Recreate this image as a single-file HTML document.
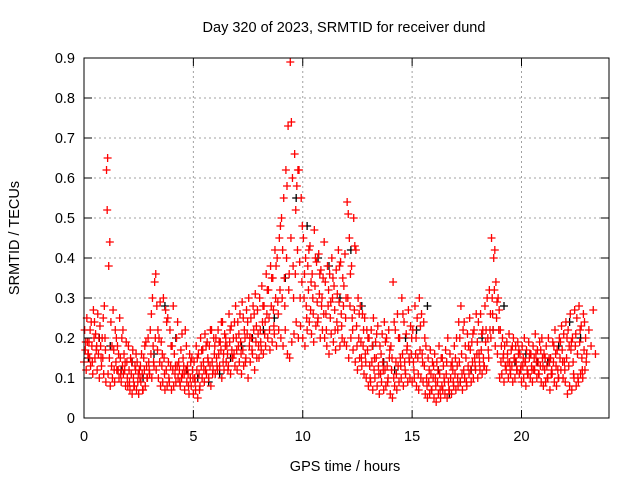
<!DOCTYPE html>
<html><head><meta charset="utf-8"><style>
body{margin:0;background:#fff}
svg{display:block;font-family:"Liberation Sans",sans-serif}
</style></head><body>
<svg id="chart" width="640" height="480" xmlns="http://www.w3.org/2000/svg">
<rect width="640" height="480" fill="#fff"/>
<text x="344" y="32" font-size="14.5" text-anchor="middle">Day 320 of 2023, SRMTID for receiver dund</text>
<text transform="translate(19,238) rotate(-90)" font-size="14.5" text-anchor="middle">SRMTID / TECUs</text>
<text x="345" y="471" font-size="14.5" text-anchor="middle">GPS time / hours</text>
<g id="grid"></g><g id="marks"></g><g id="axes"></g>
</svg>
<script>
const xTicks=[0,5,10,15,20];
const yTicks=[0,0.1,0.2,0.3,0.4,0.5,0.6,0.7,0.8,0.9];
const redA=[.14,.12,.16,.13,.11,.15,.12,.10,.13,.11,.09,.11,.08,.10,.09,.12,.10,.09,.11,.08,.08,.07,.06,.08,.07,.06,.09,.07,.08,.10,.11,.10,.13,.12,.10,.08,.09,.07,.08,.09,.07,.08,.09,.10,.08,.11,.07,.09,.06,.08,.06,.07,.05,.08,.10,.09,.11,.10,.08,.12,.11,.12,.13,.10,.12,.14,.13,.11,.15,.13,.12,.14,.11,.13,.15,.10,.14,.16,.12,.15,.15,.17,.16,.18,.20,.17,.19,.21,.18,.22,.20,.18,.22,.16,.15,.19,.21,.24,.20,.23,.20,.18,.22,.24,.21,.19,.23,.25,.20,.22,.20,.18,.16,.21,.19,.17,.22,.18,.20,.19,.18,.15,.20,.17,.14,.12,.15,.13,.11,.10,.08,.09,.07,.10,.08,.06,.09,.07,.08,.10,.06,.05,.08,.07,.09,.10,.08,.11,.09,.10,.09,.10,.08,.07,.10,.09,.06,.05,.06,.07,.05,.04,.06,.05,.07,.06,.05,.07,.06,.08,.07,.08,.09,.07,.10,.08,.11,.09,.10,.12,.10,.12,.11,.13,.12,.15,.20,.22,.18,.16,.10,.11,.09,.12,.10,.11,.09,.10,.12,.11,.09,.10,.08,.11,.10,.09,.12,.10,.11,.09,.08,.09,.10,.07,.11,.09,.08,.10,.12,.10,.09,.06,.08,.07,.10,.08,.09,.11,.10,.12];
const redB=[.22,.25,.19,.24,.27,.21,.26,.23,.20,.28,.62,.38,.24,.27,.22,.18,.25,.20,.16,.19,.18,.15,.17,.13,.14,.12,.16,.15,.19,.20,.22,.30,.34,.28,.20,.19,.30,.27,.25,.22,.18,.16,.20,.14,.17,.15,.22,.13,.16,.15,.14,.18,.16,.20,.17,.21,.19,.18,.22,.20,.20,.22,.19,.24,.21,.18,.26,.23,.20,.28,.24,.26,.29,.22,.27,.30,.25,.28,.31,.27,.30,.33,.28,.36,.32,.38,.35,.42,.40,.45,.50,.55,.62,.73,.89,.60,.66,.58,.62,.55,.45,.40,.38,.43,.36,.47,.39,.41,.37,.35,.34,.38,.36,.40,.33,.37,.42,.39,.35,.41,.54,.45,.38,.50,.42,.30,.28,.26,.25,.22,.20,.22,.25,.19,.23,.18,.21,.24,.20,.22,.18,.34,.22,.26,.20,.30,.24,.21,.27,.23,.22,.28,.25,.30,.26,.24,.18,.15,.17,.14,.16,.14,.18,.15,.13,.17,.20,.16,.14,.18,.20,.24,.28,.22,.18,.21,.25,.19,.22,.26,.24,.26,.22,.28,.30,.32,.45,.40,.34,.30,.22,.20,.18,.19,.21,.17,.20,.18,.19,.16,.18,.20,.17,.19,.16,.18,.21,.17,.19,.20,.16,.18,.20,.15,.19,.22,.17,.20,.23,.21,.24,.22,.26,.20,.27,.25,.28,.23,.26,.20];
const redC=[.17,.19,.15,.18,.20,.17,.16,.18,.15,.20,.52,.15,.13,.17,.14,.12,.15,.13,.12,.14,.12,.11,.10,.12,.09,.10,.11,.12,.13,.14,.16,.18,.20,.17,.14,.13,.15,.12,.14,.13,.12,.11,.13,.12,.10,.13,.12,.11,.10,.12,.10,.12,.11,.13,.14,.12,.15,.13,.14,.16,.15,.16,.17,.14,.18,.16,.19,.17,.16,.20,.18,.19,.17,.20,.21,.18,.20,.22,.19,.21,.22,.24,.21,.26,.25,.28,.27,.30,.29,.32,.30,.35,.40,.32,.45,.38,.36,.42,.39,.34,.30,.28,.32,.27,.30,.33,.29,.31,.28,.26,.26,.28,.25,.30,.27,.24,.29,.26,.28,.25,.30,.28,.25,.27,.23,.20,.19,.18,.16,.17,.13,.14,.12,.15,.13,.11,.14,.12,.13,.15,.12,.10,.14,.13,.15,.16,.14,.17,.15,.16,.14,.16,.15,.17,.16,.13,.10,.09,.11,.10,.10,.09,.11,.08,.10,.11,.09,.10,.12,.11,.13,.14,.16,.12,.15,.13,.17,.14,.15,.16,.16,.17,.15,.19,.20,.22,.30,.32,.25,.22,.14,.15,.13,.16,.14,.13,.15,.14,.16,.12,.13,.14,.12,.15,.13,.12,.16,.14,.13,.15,.12,.13,.15,.11,.14,.16,.12,.15,.17,.14,.15,.13,.17,.14,.18,.16,.19,.15,.17,.14];
const redD=[.19,.16,.22,.14,.24,.18,.20,.15,.25,.17,.65,.44,.18,.12,.20,.16,.11,.22,.14,.10,.09,.14,.08,.16,.11,.13,.07,.18,.10,.12,.26,.14,.36,.22,.29,.16,.11,.24,.10,.18,.28,.13,.24,.09,.21,.11,.18,.08,.14,.10,.09,.15,.07,.17,.12,.18,.14,.22,.11,.18,.13,.19,.24,.16,.20,.12,.22,.15,.24,.17,.21,.16,.25,.14,.24,.20,.17,.26,.23,.18,.19,.28,.24,.32,.22,.35,.23,.38,.26,.48,.42,.28,.58,.36,.74,.30,.52,.62,.30,.48,.36,.25,.42,.34,.26,.40,.24,.36,.30,.44,.22,.32,.29,.35,.22,.31,.38,.23,.33,.30,.51,.36,.22,.43,.18,.26,.15,.22,.14,.20,.10,.18,.15,.21,.11,.16,.12,.19,.09,.17,.15,.24,.11,.20,.13,.26,.12,.18,.14,.20,.12,.20,.11,.23,.14,.20,.08,.12,.07,.13,.08,.12,.07,.15,.09,.14,.07,.13,.09,.15,.10,.20,.11,.24,.09,.18,.12,.21,.13,.19,.14,.21,.13,.22,.17,.26,.26,.42,.29,.27,.18,.16,.13,.14,.12,.18,.15,.12,.17,.13,.15,.14,.11,.16,.12,.15,.14,.11,.17,.13,.15,.10,.14,.12,.18,.13,.10,.19,.14,.12,.20,.18,.19,.11,.21,.10,.22,.12,.24,.16,.22,.18,.27,.16];
const blackV=[.15,.20,.18,.12,.14,.10,.16,.28,.20,.12,.10,.09,.11,.15,.18,.20,.22,.25,.35,.55,.48,.40,.38,.30,.42,.28,.18,.14,.12,.20,.22,.28,.12,.06,.09,.12,.20,.22,.28,.14,.16,.14,.14,.18,.24,.20];
const ns="http://www.w3.org/2000/svg";
const X0=84,X1=609,Y0=418,Y1=58;
const sx=t=>X0+t*(X1-X0)/24;
const sy=v=>Y0-v*(Y0-Y1)/0.9;
const grid=document.getElementById('grid'),marks=document.getElementById('marks'),axes=document.getElementById('axes');
function mk(tag,attrs,parent){const e=document.createElementNS(ns,tag);for(const k in attrs)e.setAttribute(k,attrs[k]);parent.appendChild(e);return e;}
yTicks.forEach(v=>{const y=sy(v);
 if(v>0&&v<0.9){const g=mk('line',{x1:X0,x2:X1,y1:y,y2:y,stroke:'#a0a0a0','stroke-dasharray':'2,3','stroke-width':1},grid);
 
 }
 mk('line',{x1:X0,x2:X0+8,y1:y,y2:y,stroke:'#000'},axes);
 mk('line',{x1:X1,x2:X1-8,y1:y,y2:y,stroke:'#000'},axes);
 const t=mk('text',{x:X0-9,y:y+5,'font-size':14.5,'text-anchor':'end'},axes);t.textContent=String(v);
 
 
});
xTicks.forEach(v=>{const x=sx(v);
 if(v>0){const g=mk('line',{x1:x,x2:x,y1:Y0,y2:Y1,stroke:'#a0a0a0','stroke-dasharray':'2,3','stroke-width':1},grid);
 
 }
 mk('line',{x1:x,x2:x,y1:Y0,y2:Y0-8,stroke:'#000'},axes);
 mk('line',{x1:x,x2:x,y1:Y1,y2:Y1+8,stroke:'#000'},axes);
 const t=mk('text',{x:x,y:Y0+23,'font-size':14.5,'text-anchor':'middle'},axes);t.textContent=String(v);
 
 
});
const frame=mk('rect',{x:X0,y:Y1,width:X1-X0,height:Y0-Y1,fill:'none',stroke:'#000','stroke-width':1},axes);


function plus(t,v,color){const x=sx(t),y=sy(v);
 const p=mk('path',{d:`M${x-4},${y}h8M${x},${y-4}v8`,stroke:color,'stroke-width':1.3,fill:'none'},marks);
 
 }
blackV.forEach((v,i)=>plus(i*0.5+0.2,v,'#000'));
redA.forEach((v,i)=>plus(i*0.1,v,'#f00'));
redB.forEach((v,i)=>plus(i*0.1+0.03,v,'#f00'));
redC.forEach((v,i)=>plus(i*0.1+0.06,v,'#f00'));
redD.forEach((v,i)=>plus(i*0.1+0.08,v,'#f00'));
</script>
</body></html>
